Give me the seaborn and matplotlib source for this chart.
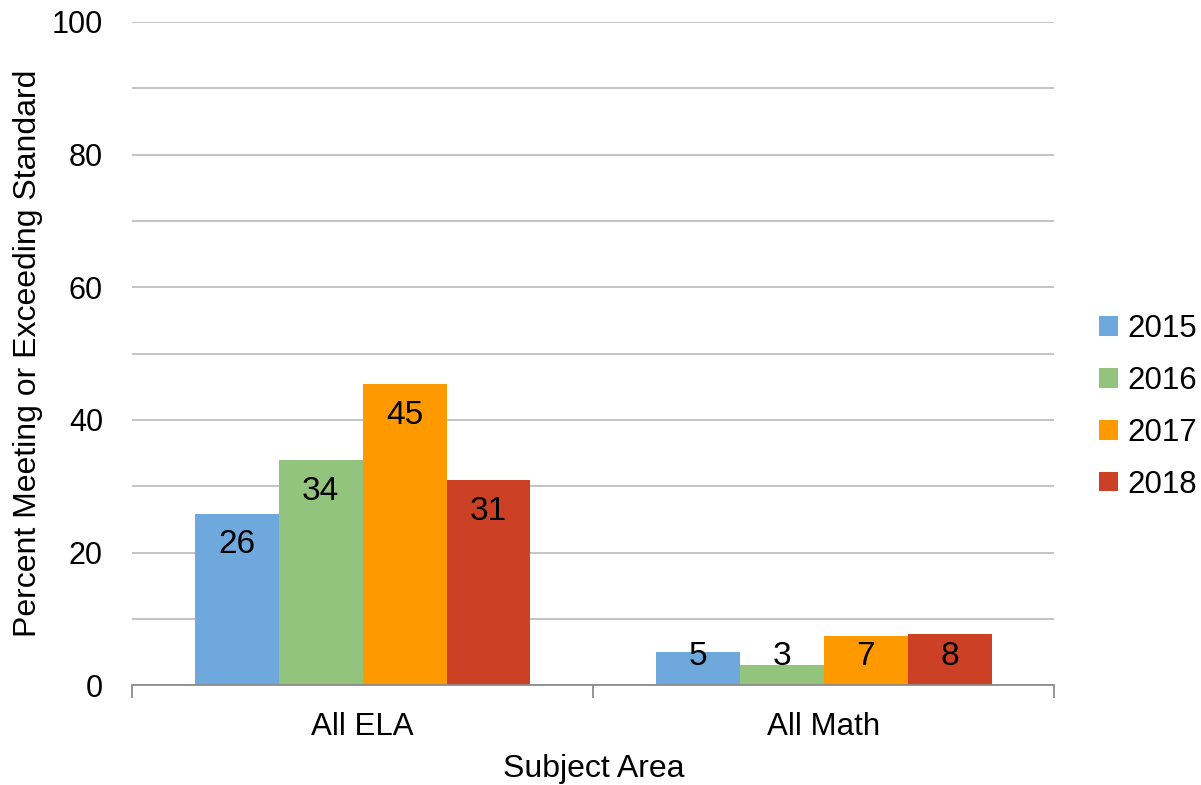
import pandas as pd
import seaborn as sns
import matplotlib.pyplot as plt
from matplotlib.ticker import MultipleLocator, FixedLocator

subjects = ['All ELA', 'All Math']
years = ['2015', '2016', '2017', '2018']
ela = [25.9, 33.9, 45.4, 30.9]
math = [5.0, 3.0, 7.4, 7.7]
colors = ['#6FA8DC', '#93C47D', '#FF9900', '#CC4125']

rows = []
for i, y in enumerate(years):
    rows.append({'Subject': subjects[0], 'Year': y, 'Value': ela[i]})
    rows.append({'Subject': subjects[1], 'Year': y, 'Value': math[i]})
df = pd.DataFrame(rows)

sns.set_style('white')
plt.rcParams['font.family'] = ['Liberation Sans', 'DejaVu Sans']
plt.rcParams['text.color'] = 'black'
plt.rcParams['axes.labelcolor'] = 'black'
plt.rcParams['xtick.color'] = 'black'
plt.rcParams['ytick.color'] = 'black'

fig = plt.figure(figsize=(12.01, 7.85), dpi=100)
ax = fig.add_axes([0.110, 0.127, 0.768, 0.845])

sns.barplot(data=df, x='Subject', y='Value', hue='Year', order=subjects,
            hue_order=years, palette=colors, width=0.727, saturation=1,
            gap=0, linewidth=0, ax=ax)

ax.set_xlim(-0.5, 1.5)
ax.set_ylim(0, 100)
ax.yaxis.set_major_locator(MultipleLocator(20))
ax.yaxis.set_minor_locator(MultipleLocator(10))
ax.grid(axis='y', which='both', color='#BFBFBF', linewidth=1.3)
ax.set_axisbelow(True)

for s in ['top', 'right', 'left']:
    ax.spines[s].set_visible(False)
ax.spines['bottom'].set_color('#8C8C8C')
ax.spines['bottom'].set_linewidth(1.3)

ax.tick_params(axis='y', which='both', length=0, pad=21, labelsize=22)
ax.tick_params(axis='x', which='major', length=0, pad=19, labelsize=22.5)
ax.xaxis.set_minor_locator(FixedLocator([-0.5, 0.5, 1.5]))
ax.tick_params(axis='x', which='minor', bottom=True, length=9, width=1.3,
               color='#8C8C8C')

ax.set_xlabel('Subject Area', fontsize=23, labelpad=9)
ax.set_ylabel('Percent Meeting or Exceeding Standard', fontsize=23, labelpad=6)

# value labels inside the bars, near the top
for cont in ax.containers:
    for p in cont.patches:
        h = p.get_height()
        ypos = max(h - 4.7, 4.4)
        ax.text(p.get_x() + p.get_width() / 2, ypos, f'{h:.0f}',
                ha='center', va='center', fontsize=24, color='black')

leg = ax.legend(loc='center left', bbox_to_anchor=(1.035, 0.42), frameon=False,
                fontsize=22.5, handlelength=0.6, handleheight=0.6,
                handletextpad=0.3, labelspacing=0.7, borderaxespad=0)

fig.savefig('out.png', dpi=100)
